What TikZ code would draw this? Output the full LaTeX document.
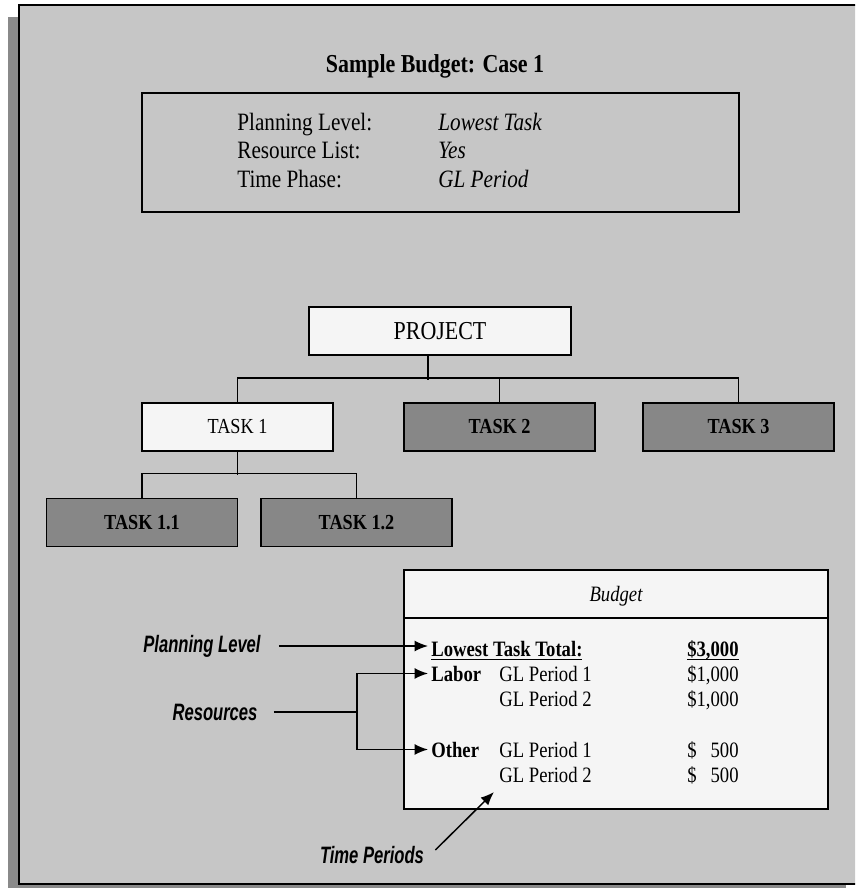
\documentclass[tikz,border=0pt]{standalone}
\usepackage{amsmath}
\usepackage{fontspec}
\setmainfont{Liberation Serif}[FakeStretch=0.85]
\newfontfamily\lblfont{Liberation Sans}[FakeStretch=0.7]
\usetikzlibrary{arrows.meta,positioning,calc}

\definecolor{panelgray}{RGB}{198,198,198}
\definecolor{shadowgray}{RGB}{138,138,138}
\definecolor{taskgray}{RGB}{135,135,135}
\definecolor{boxwhite}{RGB}{245,245,245}

\begin{document}
\begin{tikzpicture}[x=0.02cm,y=-0.02cm,
  box/.style={draw,line width=1.1pt,minimum width=3.82cm,minimum height=0.96cm,inner sep=0pt},
  lightbox/.style={box,fill=boxwhite,font=\fontsize{12.2}{14}\selectfont},
  darkbox/.style={box,fill=taskgray,font=\fontsize{12.2}{14}\selectfont\bfseries},
  conn/.style={line width=0.85pt},
  arr/.style={conn,-{Latex[length=7.6pt,width=6.2pt]}},
  lbl/.style={font=\lblfont\bfseries\itshape\fontsize{13.5}{16}\selectfont,inner sep=0pt},
  info/.style={anchor=base west,inner sep=0pt,font=\fontsize{14.2}{17}\selectfont},
  txt/.style={anchor=base west,inner sep=0pt,font=\fontsize{12.5}{15}\selectfont}]
\useasboundingbox (0,0) rectangle (855,888);
\clip (0,0) rectangle (855,888);
\fill[white] (0,0) rectangle (855,888);
\fill[shadowgray] (8,17) rectangle (846,888); % shadow
\draw[line width=1.15pt,fill=panelgray] (19,5) rectangle (858,884); % panel

% heading and settings
\node[anchor=base,inner sep=0pt,font=\fontsize{14.7}{18}\selectfont\bfseries] (title) at (435,73) {Sample Budget: Case 1};
\node[draw,line width=1.1pt,minimum width=11.94cm,minimum height=2.38cm] (setbox) at (440.5,152.5) {};
\node[info] (plev) at (237,131) {Planning Level:};
\node[info] (rlist) at (237,159) {Resource List:};
\node[info] (tphase) at (237,188) {Time Phase:};
\node[info] (plevv) at (438,131) {\itshape Lowest Task};
\node[info] (rlistv) at (438,159) {\itshape Yes};
\node[info] (tphasev) at (438,188) {\itshape GL Period};

% work breakdown
\node[lightbox,minimum width=5.24cm,font=\fontsize{14.7}{18}\selectfont] (proj) at (440,331) {PROJECT};
\node[lightbox] (t1) at (237.5,427) {TASK 1};
\node[darkbox] (t2) at (499.5,427) {TASK 2};
\node[darkbox] (t3) at (738.5,427) {TASK 3};
\node[darkbox] (t11) at (142,522.5) {TASK 1.1};
\node[darkbox] (t12) at (356.5,522.5) {TASK 1.2};
\draw[conn] ([xshift=-0.24cm]proj.south) -- ++(0,24);
\draw[conn] (t1.north) -- ++(0,-24) -| (t3.north);
\draw[conn] (t2.north) -- ++(0,-24);
\draw[conn] (t1.south) -- ++(0,23);
\draw[conn] (t11.north) -- ++(0,-24) -| (t12.north);

% budget table
\node[draw,line width=1.1pt,fill=boxwhite,minimum width=8.48cm,minimum height=4.78cm] (bud) at (616,689.5) {};
\coordinate (hdr) at (616,618);
\draw[line width=1.1pt] (bud.west |- hdr) -- (bud.east |- hdr);
\node[anchor=base,inner sep=0pt,font=\fontsize{12.5}{15}\selectfont\itshape] (budt) at (616,601) {Budget};
\node[txt,font=\fontsize{12.5}{15}\selectfont\bfseries] (lowest) at (431,656) {\underline{Lowest Task Total:}};
\node[txt,anchor=base east,font=\fontsize{12.5}{15}\selectfont\bfseries] (total) at (739,656) {\underline{\smash[b]{\$3,000}}};
\node[txt,font=\fontsize{12.5}{15}\selectfont\bfseries] (labor) at (431,681) {Labor};
\node[txt] (lp1) at (499,681) {GL Period 1};
\node[txt,anchor=base east] (la1) at (739,681) {\$1,000};
\node[txt] (lp2) at (499,706) {GL Period 2};
\node[txt,anchor=base east] (la2) at (739,706) {\$1,000};
\node[txt,font=\fontsize{12.5}{15}\selectfont\bfseries] (other) at (431,757) {Other};
\node[txt] (op1) at (499,757) {GL Period 1};
\node[txt,anchor=base east] (oa1) at (739,757) {\$\phantom{1,}500};
\node[txt] (op2) at (499,782) {GL Period 2};
\node[txt,anchor=base east] (oa2) at (739,782) {\$\phantom{1,}500};

% callouts
\node[lbl] (lpl) at (202,646) {Planning Level};
\node[lbl] (lres) at (215,712) {Resources};
\node[lbl] (ltp) at (372,855) {Time Periods};
\coordinate (rk) at (357,712);
\coordinate (tptip) at (494,792);
\draw[arr,shorten <=0.36cm,shorten >=0.06cm] (lpl.east) -- (lpl.east -| lowest.west);
\draw[conn,shorten <=0.32cm] (lres.east) -- (lres.east -| rk);
\draw[arr,shorten >=0.06cm] (rk) |- (labor.west);
\draw[arr,shorten >=0.06cm] (rk) |- (other.west);
\draw[arr] ($(ltp.east)+(11,-5)$) -- (tptip);
\end{tikzpicture}
\end{document}
